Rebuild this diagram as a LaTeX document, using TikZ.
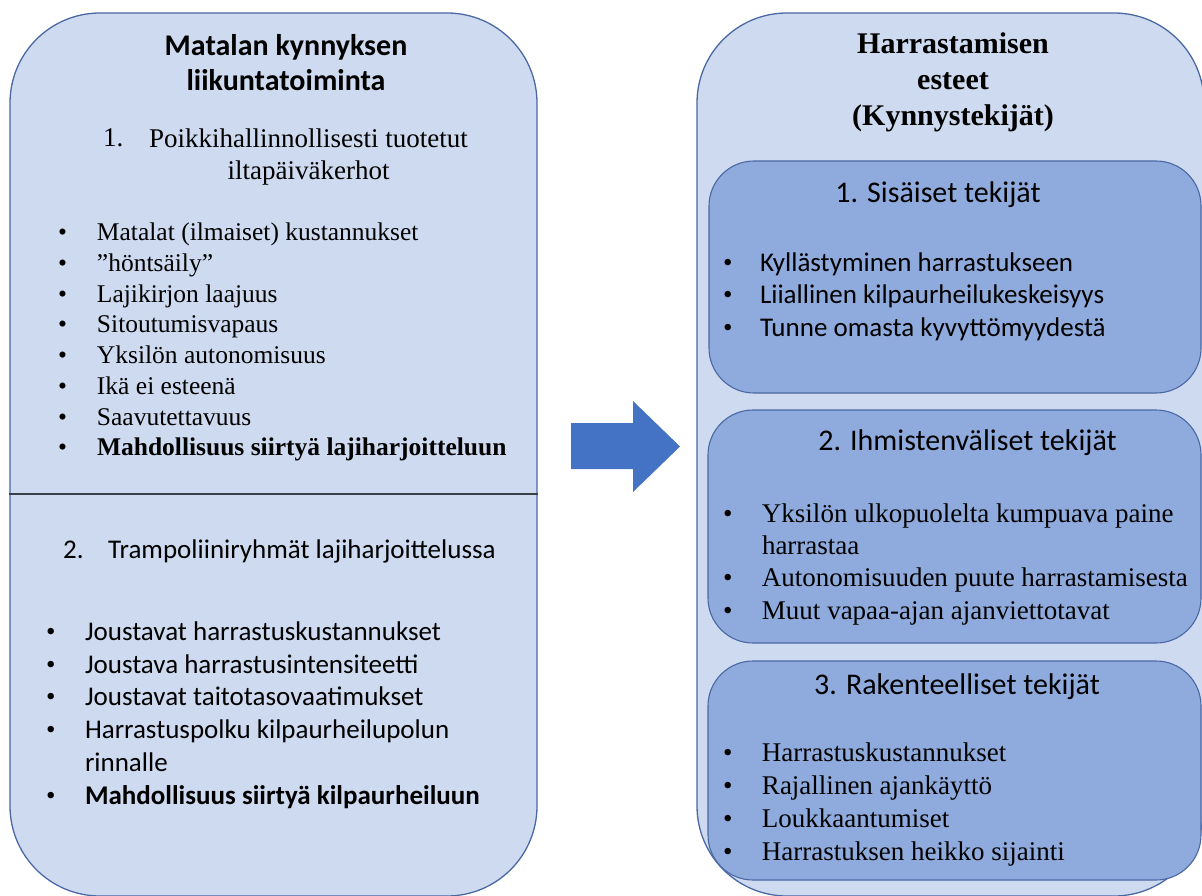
\documentclass[tikz,border=0pt]{standalone}
\usepackage{fontspec}
\setmainfont{Liberation Serif}
\newfontfamily\calibri{Carlito}
\usetikzlibrary{positioning}

\definecolor{paneblue}{HTML}{CEDAEF}
\definecolor{boxblue}{HTML}{8FAADC}
\definecolor{rimblue}{HTML}{4A68A4}
\definecolor{arrowblue}{HTML}{4472C4}
\definecolor{divgray}{HTML}{3B3F48}

% bullet in a box of given width
\newcommand{\bul}[1][40pt]{\makebox[#1][l]{\rmfamily\mdseries•}}

\begin{document}
\begin{tikzpicture}[x=1pt,y=-1pt,
    pane/.style={draw=rimblue, line width=1.3pt, fill=paneblue, rounded corners=90pt, inner sep=0pt},
    group/.style={draw=rimblue, line width=1.1pt, fill=boxblue, rounded corners=45pt, inner sep=0pt},
    txt/.style={inner sep=0pt, outer sep=0pt, text=black,
      execute at begin node=\strut, execute at end node=\strut}
  ]
  \useasboundingbox (0,0) rectangle (1202,896);

  % panes
  \node[pane, minimum width=527, minimum height=883] (lpane) at (273.5,454.5) {};
  \node[pane, minimum width=507, minimum height=883] (rpane) at (950.5,454.5) {};
  \node[group, minimum width=492, minimum height=232] (intbox) at (955,277) {};
  \node[group, minimum width=493, minimum height=233] (socbox) at (954.5,526.5) {};
  \node[group, minimum width=493, minimum height=219] (strbox) at (954.5,770.5) {};

  % divider in left pane
  \coordinate (divy) at (0,494);
  \draw[divgray, line width=1.3pt] (lpane.west |- divy) -- (lpane.east |- divy);

  % block arrow
  \fill[arrowblue] (571,423) -- (633,423) -- (633,401) -- (680,446.5)
    -- (633,492) -- (633,469) -- (571,469) -- cycle;

  % left pane
  \node[txt, anchor=north, align=center, font={\fontsize{30}{35}\calibri\bfseries}]
    (ltitle) at (286,34.5) {Matalan kynnyksen\\liikuntatoiminta};
  \node[txt, anchor=north, align=center, font={\fontsize{27}{32}\selectfont}]
    (lhead1) at (308.5,128.6) {Poikkihallinnollisesti tuotetut\\iltapäiväkerhot};
  \node[inner sep=0pt, anchor=base west, font={\fontsize{27}{32}\selectfont}]
    (lnum1) at (103,147) {1.};
  \node[txt, anchor=north west, align=left, font={\fontsize{25.5}{30.7}\selectfont}]
    (llist1) at (58,223.2) {%
    \bul[39pt]Matalat (ilmaiset) kustannukset\\
    \bul[39pt]”höntsäily”\\
    \bul[39pt]Lajikirjon laajuus\\
    \bul[39pt]Sitoutumisvapaus\\
    \bul[39pt]Yksilön autonomisuus\\
    \bul[39pt]Ikä ei esteenä\\
    \bul[39pt]Saavutettavuus\\
    \bul[39pt]\textbf{Mahdollisuus siirtyä lajiharjoitteluun}};

  \node[inner sep=0pt, anchor=base west, font={\fontsize{27}{32.8}\calibri}]
    (lnum2) at (63,558.5) {2.};
  \node[inner sep=0pt, anchor=base west, font={\fontsize{27}{32.8}\calibri}]
    (lhead2) at (108,558.5) {Trampoliiniryhmät lajiharjoittelussa};
  \node[txt, anchor=north west, align=left, font={\fontsize{27}{32.8}\calibri}]
    (llist2) at (46,621.5) {%
    \bul[39pt]Joustavat harrastuskustannukset\\
    \bul[39pt]Joustava harrastusintensiteetti\\
    \bul[39pt]Joustavat taitotasovaatimukset\\
    \bul[39pt]Harrastuspolku kilpaurheilupolun\\
    \hspace*{39pt}rinnalle\\
    \bul[39pt]\textbf{Mahdollisuus siirtyä kilpaurheiluun}};

  % right pane
  \node[txt, anchor=north, align=center, font={\fontsize{30}{36}\selectfont\bfseries}]
    (rtitle) at (953,33) {Harrastamisen\\esteet\\(Kynnystekijät)};

  \node[inner sep=0pt, anchor=base, font={\fontsize{30}{36}\calibri}]
    (inttitle) at (938,203) {1. Sisäiset tekijät};
  \node[txt, anchor=north west, align=left, font={\fontsize{27}{32.5}\calibri}]
    (intlist) at (723,252.5) {%
    \bul[37pt]Kyllästyminen harrastukseen\\
    \bul[37pt]Liiallinen kilpaurheilukeskeisyys\\
    \bul[37pt]Tunne omasta kyvyttömyydestä};

  \node[inner sep=0pt, anchor=base, font={\fontsize{30}{36}\calibri}]
    (soctitle) at (967.5,450) {2. Ihmistenväliset tekijät};
  \node[txt, anchor=north west, align=left, font={\fontsize{27}{32.3}\selectfont}]
    (soclist) at (723,503.4) {%
    \bul[39pt]Yksilön ulkopuolelta kumpuava paine\\
    \hspace*{39pt}harrastaa\\
    \bul[39pt]Autonomisuuden puute harrastamisesta\\
    \bul[39pt]Muut vapaa-ajan ajanviettotavat};

  \node[inner sep=0pt, anchor=base, font={\fontsize{30}{36}\calibri}]
    (strtitle) at (957,694) {3. Rakenteelliset tekijät};
  \node[txt, anchor=north west, align=left, font={\fontsize{27}{33}\selectfont}]
    (strlist) at (723,742.9) {%
    \bul[39pt]Harrastuskustannukset\\
    \bul[39pt]Rajallinen ajankäyttö\\
    \bul[39pt]Loukkaantumiset\\
    \bul[39pt]Harrastuksen heikko sijainti};
\end{tikzpicture}
\end{document}
